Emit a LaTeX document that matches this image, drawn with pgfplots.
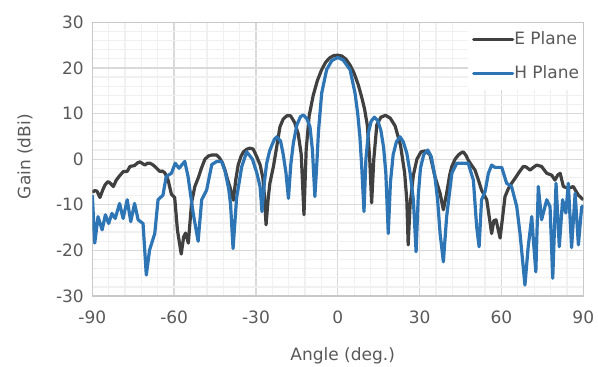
\documentclass[border=0pt]{standalone}
\usepackage{fontspec}
\setmainfont{DejaVu Sans}
\usepackage{pgfplots}
\pgfplotsset{compat=1.18}
\definecolor{tgray}{HTML}{595959}
\definecolor{egray}{HTML}{404040}
\definecolor{hblue}{HTML}{2E75B6}
\definecolor{gmaj}{HTML}{D9D9D9}
\definecolor{gmin}{HTML}{F0F0F0}
\definecolor{frame}{HTML}{C8C8C8}
\newcommand{\lblfont}{\fontsize{17bp}{20bp}\selectfont}
\begin{document}
\begin{tikzpicture}
\useasboundingbox (-92.3bp,-71bp) rectangle (505.7bp,296bp);
\begin{axis}[
  at={(0,0)}, anchor=south west,
  scale only axis, width=491bp, height=273.7bp,
  xmin=-90, xmax=90, ymin=-30, ymax=30,
  xtick={-90,-60,-30,0,30,60,90},
  xticklabels={-90,-60,-30,0,30,60,90},
  ytick={-30,-20,-10,0,10,20,30},
  yticklabels={-30,-20,-10,0,10,20,30},
  minor x tick num=4, minor y tick num=4,
  grid=both,
  major grid style={draw=gmaj, line width=1.3bp},
  minor grid style={draw=gmin, line width=1.3bp},
  axis line style={draw=frame, line width=1.3bp},
  major tick length=0pt, minor tick length=0pt,
  tick style={draw=none},
  ticklabel style={font=\lblfont, text=tgray},
  xticklabel style={yshift=-11bp},
  yticklabel style={xshift=-5bp},
  xlabel={Angle (deg.)}, ylabel={Gain (dBi)},
  xlabel style={at={(axis description cs:0.51,-0.217)}, anchor=center, font=\lblfont, text=tgray},
  ylabel style={at={(axis description cs:-0.137,0.509)}, anchor=center, font=\lblfont, text=tgray},
  legend style={at={(1,1)}, anchor=north east, draw=none, fill=white,
    inner xsep=4bp, inner ysep=10bp, row sep=20bp,
    font=\lblfont, text=tgray,
    nodes={inner sep=0bp},
    /tikz/every even column/.append style={text height=12.4bp, text depth=0bp}},
  legend cell align=left,
  legend image code/.code={\draw[#1, line cap=round] (1.5bp,0bp) -- (40.5bp,0bp);},
]
\addplot[egray, line width=3.2bp, line join=round] coordinates {
(-90,-7.2) (-89,-6.9) (-88.3,-7.0) (-87.2,-8.4) (-86.2,-6.8) (-85.3,-5.6) (-84.2,-4.9) (-83.2,-5.4)
(-82.3,-6.0) (-81.2,-4.6) (-80.2,-3.8) (-78.6,-2.7) (-77.2,-2.7) (-76.2,-1.6) (-74.5,-1.4) (-73.4,-0.8)
(-72.5,-0.6) (-71.5,-1.0) (-70.7,-1.3) (-69.8,-0.9) (-68.9,-0.9) (-67.9,-1.2) (-67.1,-1.6) (-65.2,-2.7)
(-64.3,-2.6) (-63.4,-3.0) (-62.2,-4.6) (-61.0,-7.7) (-59.8,-8.4) (-58.8,-15.5) (-57.4,-20.8) (-56.5,-17.0)
(-55.8,-16.2) (-54.8,-18.4) (-53.6,-9.5) (-52.4,-6.0) (-51.1,-4.0) (-50,-2.0) (-48.7,0.0) (-47.4,0.7)
(-46.2,0.9) (-44.4,0.9) (-43.4,0.3) (-42.3,-0.8) (-41.3,-2.5) (-40.4,-4.5) (-39.5,-6.2) (-38.3,-9.0)
(-37.4,-4.5) (-36.5,-1.2) (-35.5,0.6) (-34.6,1.6) (-33.3,2.2) (-32.2,2.4) (-31.0,2.2) (-29.7,0.5)
(-28.5,-1.2) (-27.5,-4.0) (-26.9,-8.0) (-26.3,-14.4) (-25.5,-8.5) (-24.9,-5.3) (-23.6,-1.6) (-22.4,2.7)
(-21.2,7.1) (-20.0,8.8) (-18.7,9.5) (-17.3,9.5) (-15.8,8.0) (-14.5,5.5) (-13.4,1.0) (-12.4,-12.2)
(-11.6,2.0) (-10.5,9.5) (-9.0,14.0) (-7.5,17.2) (-6.0,19.5) (-4.5,21.2) (-3.0,22.2) (-1.5,22.7)
(0,22.8) (1.5,22.6) (3.0,21.9) (4.5,20.6) (6.0,18.8) (7.5,16.3) (8.8,13.5) (9.8,11.0)
(10.8,7.5) (11.7,0) (12.4,-9.6) (13.2,0) (14.3,7.5) (15.8,9.2) (17.5,9.6) (19.2,9.0)
(21.0,7.3) (23.0,3.0) (24.5,-3.0) (25.3,-9.0) (25.8,-18.8) (26.5,-10.0) (27.7,-3.5) (29.0,0.0)
(30.5,1.6) (32.0,1.8) (33.8,1.0) (35.6,-3.8) (37.5,-7.5) (38.7,-11.1) (39.9,-7.5) (41.0,-3.5)
(41.8,-1.6) (43.0,0.0) (44.2,0.9) (45.0,1.3) (46.0,1.6) (47.0,0.8) (47.8,-0.2) (49.0,-1.3)
(50.3,-2.4) (51.5,-4.5) (52.7,-6.8) (54.6,-8.9) (56.4,-16.3) (57.2,-13.5) (58.0,-13.3) (59.5,-17.3)
(61.3,-8.2) (62.5,-6.5) (63.7,-5.3) (65.0,-4.2) (66.2,-3.1) (68.0,-1.6) (69.0,-1.7) (70.5,-2.4)
(71.7,-1.8) (72.9,-1.3) (74.7,-1.6) (75.7,-2.4) (76.6,-3.1) (78.4,-3.5) (79.6,-4.6) (80.6,-3.5)
(81.5,-3.1) (82.7,-6.0) (84.5,-6.4) (86.3,-6.0) (88.2,-7.9) (90,-8.9)
};
\addlegendentry{E Plane}
\addplot[hblue, line width=3.2bp, line join=round] coordinates {
(-90,-7.9) (-89.1,-18.4) (-87.9,-12.6) (-86.4,-15.5) (-85.2,-12.2) (-84.0,-14.1) (-82.8,-11.9) (-81.6,-13.0)
(-80.0,-9.7) (-78.7,-13.0) (-77.2,-8.9) (-75.9,-13.7) (-74.5,-9.7) (-73.2,-13.3) (-71.4,-14.1) (-70.2,-25.4)
(-69.0,-19.9) (-67.1,-16.3) (-65.9,-8.9) (-64.1,-7.9) (-62.9,-3.8) (-61.0,-3.1) (-59.6,-0.9) (-58.2,-2.0)
(-56.1,-0.5) (-54.9,-3.8) (-53.0,-11.9) (-51.2,-18.0) (-49.9,-8.9) (-48.1,-6.8) (-46.2,-1.2) (-44.4,-0.5)
(-42.6,-0.5) (-41.3,-2.7) (-40.0,-6.5) (-39.3,-10.0) (-38.4,-19.6) (-37.1,-8.5) (-35.2,-1.6) (-33.4,1.6)
(-31.3,0.0) (-29.7,-3.0) (-28.5,-6.0) (-27.8,-11.5) (-26.9,-5.0) (-26.1,-1.0) (-25.0,1.8) (-24.2,3.0)
(-23.2,4.4) (-22.4,4.9) (-21.0,4.0) (-20.0,1.0) (-19.0,-3.0) (-18.1,-8.6) (-17.2,-1.0) (-16.3,3.5)
(-15.0,7.5) (-13.7,9.3) (-12.6,9.7) (-11.3,8.8) (-10.2,7.1) (-9.3,2.0) (-8.4,-8.2) (-7.6,0.0)
(-7.1,6.0) (-5.9,14.5) (-4.1,19.6) (-2.2,21.6) (0,22.3) (2.0,21.7) (4.5,19.6) (6.3,14.5)
(7.3,10.0) (8.1,4.9) (8.8,-2.0) (9.6,-11.5) (10.3,0.0) (11.2,5.7) (12.2,8.3) (13.4,9.2)
(14.6,8.5) (15.8,6.3) (16.8,2.5) (17.6,-3.0) (18.5,-16.3) (19.3,-5.0) (20.3,1.0) (21.5,3.8)
(22.8,4.9) (24.0,3.8) (25.3,1.3) (26.5,-3.0) (27.7,-8.9) (28.7,-20.3) (29.5,-8.0) (30.3,-2.0)
(31.5,1.0) (33.0,2.0) (34.3,0.5) (35.6,-3.8) (36.6,-9.0) (37.5,-16.3) (38.7,-22.5) (39.9,-12.6)
(41.8,-3.1) (43.6,-0.9) (45.6,-0.9) (47.8,-0.9) (49.7,-4.6) (50.9,-14.8) (51.8,-19.2) (52.7,-8.9)
(54.0,-7.1) (55.2,-3.1) (56.4,-1.3) (57.6,-1.8) (60.1,-1.8) (61.9,-5.3) (63.7,-6.0) (65.6,-10.4)
(66.8,-16.3) (68.6,-27.6) (69.8,-19.2) (71.1,-12.6) (71.7,-17.8) (72.6,-24.7) (73.5,-6.0) (74.7,-13.3)
(76.6,-8.9) (77.8,-10.4) (78.8,-26.1) (80.0,-5.3) (81.2,-19.2) (82.4,-8.9) (83.6,-11.8) (84.5,-5.3)
(85.7,-19.4) (87.0,-7.5) (88.2,-18.8) (89.4,-10.4) (90,-10.4)
};
\addlegendentry{H Plane}
\end{axis}
\end{tikzpicture}
\end{document}
